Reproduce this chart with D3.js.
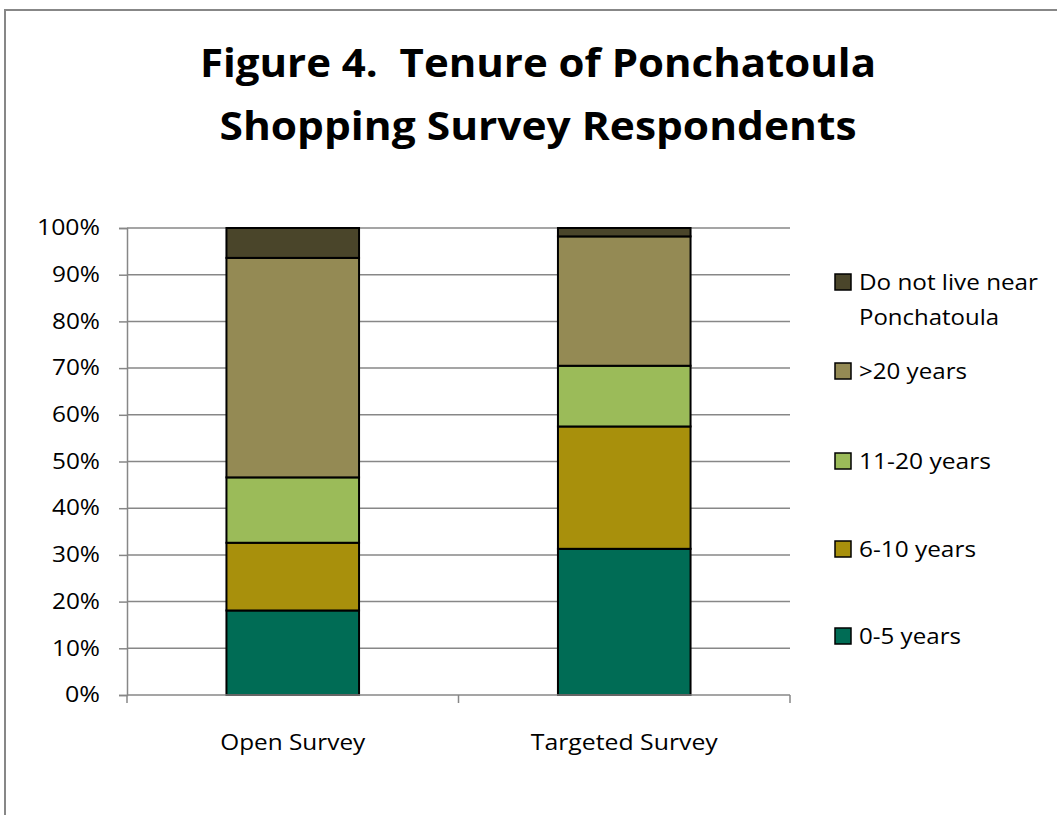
<!DOCTYPE html>
<html>
<head>
<meta charset="utf-8">
<script src="https://cdn.jsdelivr.net/npm/d3@7"></script>
<style>
  html, body { margin: 0; padding: 0; background: #fff; }
  svg { display: block; }
  text { font-family: "Open Sans", Lato, sans-serif; fill: #000; white-space: pre; }
</style>
</head>
<body>
<svg id="chart" width="1057" height="815"></svg>
<script>
// Survey groups and tenure categories (bottom to top in the stack)
const surveys = ["Open Survey", "Targeted Survey"];
const tenures = ["0-5 years", "6-10 years", "11-20 years", ">20 years", "Do not live near Ponchatoula"];
const tenureColors = ["#006C55", "#A8900C", "#9BBB59", "#948A54", "#4A452A"];

// Share of respondents (%) per tenure category, one array per survey
const openSurvey = [18.1, 14.5, 14.0, 47.0, 6.4];
const targetedSurvey = [31.3, 26.2, 13.0, 27.7, 1.8];

const yTicks = [0, 10, 20, 30, 40, 50, 60, 70, 80, 90, 100];

const rows = surveys.map((s, i) => {
  const vals = i === 0 ? openSurvey : targetedSurvey;
  const r = { survey: s };
  tenures.forEach((t, j) => r[t] = vals[j]);
  return r;
});

const svg = d3.select("#chart");

// Stretch a text run horizontally so it spans a given width
function fit(sel, w) {
  sel.attr("textLength", w).attr("lengthAdjust", "spacingAndGlyphs");
}

// Outer chart frame
svg.append("path")
  .attr("d", "M5,830 L5,10 L1070,10")
  .attr("fill", "none")
  .attr("stroke", "#878787")
  .attr("stroke-width", 2);

// Title
const title = svg.append("text")
  .attr("text-anchor", "middle")
  .style("font-weight", "bold")
  .style("font-size", "40px");
title.append("tspan").attr("x", 538).attr("y", 77).text("Figure 4.  Tenure of Ponchatoula").call(fit, 676);
title.append("tspan").attr("x", 538).attr("y", 140).text("Shopping Survey Respondents").call(fit, 637);

const plot = { left: 127, right: 790, top: 228, bottom: 695 };

const x = d3.scaleBand().domain(surveys).range([plot.left, plot.right]).padding(0);
const y = d3.scaleLinear().domain([0, 100]).range([plot.bottom, plot.top]);

const gridColor = "#878787";

// Horizontal gridlines
svg.append("g")
  .selectAll("line")
  .data(yTicks.filter(d => d > 0))
  .join("line")
  .attr("x1", plot.left).attr("x2", plot.right)
  .attr("y1", d => y(d)).attr("y2", d => y(d))
  .attr("stroke", gridColor)
  .attr("stroke-width", 1.5);

// Stacked bars
const stack = d3.stack().keys(tenures);
const series = stack(rows);
const barW = x.bandwidth() * 0.4;

svg.append("g")
  .selectAll("g")
  .data(series)
  .join("g")
  .attr("fill", (d, i) => tenureColors[i])
  .selectAll("rect")
  .data(d => d)
  .join("rect")
  .attr("x", d => x(d.data.survey) + (x.bandwidth() - barW) / 2)
  .attr("width", barW)
  .attr("y", d => y(d[1]))
  .attr("height", d => y(d[0]) - y(d[1]))
  .attr("stroke", "#000")
  .attr("stroke-width", 2);

// Y axis
const yAxis = svg.append("g")
  .attr("transform", `translate(${plot.left},0)`)
  .call(d3.axisLeft(y).tickValues(yTicks).tickFormat(d => d + "%").tickSize(8).tickPadding(19));
yAxis.select(".domain").attr("stroke", gridColor).attr("stroke-width", 1.5);
yAxis.selectAll(".tick line").attr("stroke", gridColor).attr("stroke-width", 1.5);
yAxis.selectAll(".tick text")
  .style("font-family", "'Open Sans', Lato, sans-serif")
  .style("font-size", "21px")
  .attr("fill", "#000")
  .each(function (d) {
    const w = d === 100 ? 63 : d === 0 ? 35 : 48;
    d3.select(this).call(fit, w);
  });

// X axis with boundary ticks between categories
const xAxisG = svg.append("g").attr("transform", `translate(0,${plot.bottom})`);
xAxisG.append("line")
  .attr("x1", plot.left).attr("x2", plot.right)
  .attr("stroke", gridColor).attr("stroke-width", 1.5);
const boundaries = surveys.map(s => x(s)).concat([x(surveys[surveys.length - 1]) + x.bandwidth()]);
xAxisG.selectAll("line.b")
  .data(boundaries)
  .join("line")
  .attr("class", "b")
  .attr("x1", d => d).attr("x2", d => d)
  .attr("y1", 0).attr("y2", 8)
  .attr("stroke", gridColor).attr("stroke-width", 1.5);
const xLabelWidths = [145, 187];
xAxisG.selectAll("text")
  .data(surveys)
  .join("text")
  .attr("x", d => x(d) + x.bandwidth() / 2)
  .attr("y", 55)
  .attr("text-anchor", "middle")
  .style("font-size", "21px")
  .text(d => d)
  .each(function (d, i) { d3.select(this).call(fit, xLabelWidths[i]); });

// Legend, top entry first
const legendY = [282, 371, 461, 549, 636];
const legendWidths = { "0-5 years": 102, "6-10 years": 117, "11-20 years": 132, ">20 years": 108 };
const legend = svg.append("g");
const order = tenures.map((t, i) => i).reverse();
order.forEach((idx, k) => {
  const cy = legendY[k];
  legend.append("rect")
    .attr("x", 835).attr("y", cy - 8)
    .attr("width", 16).attr("height", 16)
    .attr("fill", tenureColors[idx])
    .attr("stroke", "#000").attr("stroke-width", 1.5);
  const label = tenures[idx];
  if (label === "Do not live near Ponchatoula") {
    const t = legend.append("text").style("font-size", "21px");
    t.append("tspan").attr("x", 859).attr("y", cy + 8).text("Do not live near").call(fit, 179);
    t.append("tspan").attr("x", 859).attr("y", cy + 43).text("Ponchatoula").call(fit, 140);
  } else {
    legend.append("text")
      .attr("x", 859).attr("y", cy + 8)
      .style("font-size", "21px")
      .text(label)
      .call(fit, legendWidths[label]);
  }
});
</script>
</body>
</html>
